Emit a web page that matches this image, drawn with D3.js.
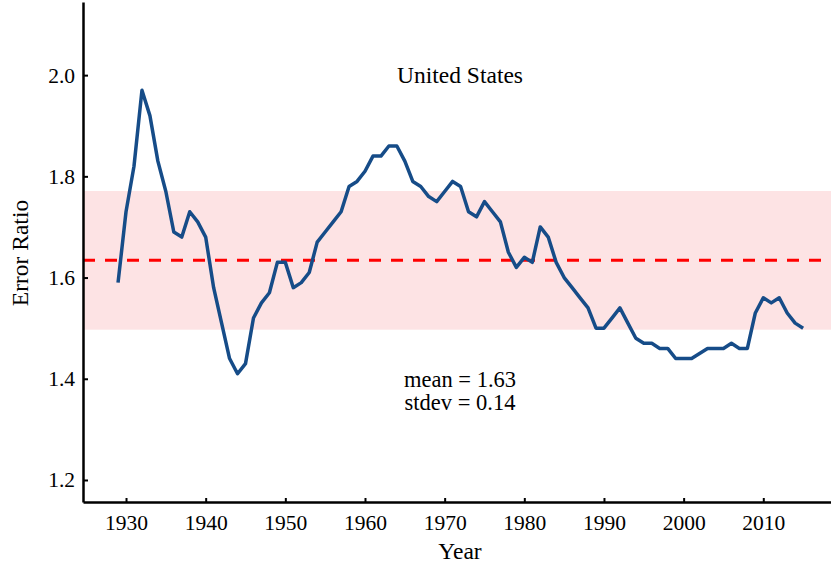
<!DOCTYPE html>
<html>
<head>
<meta charset="utf-8">
<title>Error Ratio - United States</title>
<script src="https://cdn.jsdelivr.net/npm/d3@7"></script>
<style>
	body { margin: 0; background: #fff; }
	svg { display: block; font-family: "Liberation Serif", "DejaVu Serif", serif; }
	.axis path, .axis line { stroke: #000; }
	.axis text { font-size: 21.5px; fill: #000; font-family: "Liberation Serif", serif; }
</style>
</head>
<body>
<script>
// yearly error ratio
var years = d3.range(1929, 2016);
var ratio = [
	1.59, 1.73, 1.82, 1.97, 1.92, 1.83, 1.77, 1.69, 1.68, 1.73,
	1.71, 1.68, 1.58, 1.51, 1.44, 1.41, 1.43, 1.52, 1.55, 1.57,
	1.63, 1.63, 1.58, 1.59, 1.61, 1.67, 1.69, 1.71, 1.73, 1.78,
	1.79, 1.81, 1.84, 1.84, 1.86, 1.86, 1.83, 1.79, 1.78, 1.76,
	1.75, 1.77, 1.79, 1.78, 1.73, 1.72, 1.75, 1.73, 1.71, 1.65,
	1.62, 1.64, 1.63, 1.70, 1.68, 1.63, 1.60, 1.58, 1.56, 1.54,
	1.50, 1.50, 1.52, 1.54, 1.51, 1.48, 1.47, 1.47, 1.46, 1.46,
	1.44, 1.44, 1.44, 1.45, 1.46, 1.46, 1.46, 1.47, 1.46, 1.46,
	1.53, 1.56, 1.55, 1.56, 1.53, 1.51, 1.50
];
var xTicks = [1930, 1940, 1950, 1960, 1970, 1980, 1990, 2000, 2010];
var yTicks = [1.2, 1.4, 1.6, 1.8, 2.0];
var meanVal = 1.634;
var stdevVal = 0.137;
var country = "United States";

var W = 831, H = 565;
var svg = d3.select("body").append("svg").attr("width", W).attr("height", H);

var x = d3.scaleLinear().domain([1924.6, 2018.5]).range([83, 831]);
var y = d3.scaleLinear().domain([1.1565, 2.1445]).range([502, 2]);

// +/- 1 stdev band
svg.append("rect")
	.attr("x", x(1924.6))
	.attr("width", x(2018.5) - x(1924.6))
	.attr("y", y(meanVal + stdevVal))
	.attr("height", y(meanVal - stdevVal) - y(meanVal + stdevVal))
	.attr("fill", "#fde3e4");

// mean line
svg.append("line")
	.attr("x1", x(1924.6)).attr("x2", x(2018.5))
	.attr("y1", y(meanVal)).attr("y2", y(meanVal))
	.attr("stroke", "#ff0000")
	.attr("stroke-width", 3)
	.attr("stroke-dasharray", "12,10");

var line = d3.line()
	.x(function(d, i){ return x(years[i]); })
	.y(function(d){ return y(d); });

svg.append("path")
	.datum(ratio)
	.attr("d", line)
	.attr("fill", "none")
	.attr("stroke", "#164c88")
	.attr("stroke-width", 3.5)
	.attr("stroke-linejoin", "round");

// axes, ticks point inward
var gx = svg.append("g").attr("class", "axis")
	.attr("transform", "translate(0,502)")
	.call(d3.axisBottom(x).tickValues(xTicks).tickFormat(d3.format("d"))
		.tickSizeInner(-4).tickSizeOuter(0).tickPadding(13));
var gy = svg.append("g").attr("class", "axis")
	.attr("transform", "translate(83,0)")
	.call(d3.axisLeft(y).tickValues(yTicks).tickFormat(d3.format(".1f"))
		.tickSizeInner(-5).tickSizeOuter(0).tickPadding(8));
gx.select(".domain").attr("stroke-width", 2.5);
gy.select(".domain").attr("stroke-width", 2.5);
svg.selectAll(".axis .tick line").attr("stroke-width", 2);

svg.append("text")
	.attr("x", 460).attr("y", 559)
	.attr("text-anchor", "middle")
	.style("font-size", "23.5px")
	.text("Year");

svg.append("text")
	.attr("transform", "translate(28,253) rotate(-90)")
	.attr("text-anchor", "middle")
	.style("font-size", "23.5px")
	.text("Error Ratio");

svg.append("text")
	.attr("x", 460).attr("y", 83)
	.attr("text-anchor", "middle")
	.style("font-size", "23.5px")
	.text(country);

svg.append("text")
	.attr("x", 460).attr("y", 387)
	.attr("text-anchor", "middle")
	.style("font-size", "22.5px")
	.text("mean = " + meanVal.toFixed(2));

svg.append("text")
	.attr("x", 460).attr("y", 410)
	.attr("text-anchor", "middle")
	.style("font-size", "22.5px")
	.text("stdev = " + stdevVal.toFixed(2));
</script>
</body>
</html>
